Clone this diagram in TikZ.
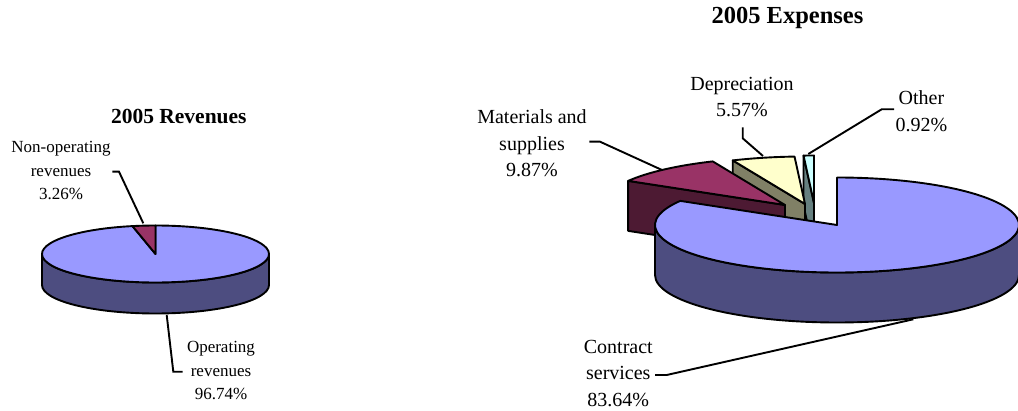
\documentclass[tikz,border=0pt]{standalone}
\usepackage{fontspec}
\setmainfont{Liberation Serif}
\definecolor{pblue}{HTML}{9999FF}
\definecolor{pblueside}{HTML}{4D4D80}
\definecolor{pmaroon}{HTML}{993366}
\definecolor{pmaroonside}{HTML}{4D1A33}
\definecolor{pyellow}{HTML}{FFFFCC}
\definecolor{pyellowside}{HTML}{808066}
\definecolor{pcyan}{HTML}{CCFFFF}
\definecolor{pcyanside}{HTML}{668080}
\begin{document}
\begin{tikzpicture}[x=1pt,y=1pt,
  face/.style={draw=black, line width=1.9pt, line join=round},
  leader/.style={draw=black, line width=1.9pt},
  lbl/.style={inner sep=0pt, align=center, font=\fontsize{20}{26.5}\selectfont},
  rlbl/.style={inner sep=0pt, align=center, font=\fontsize{17}{23.5}\selectfont},
  rttl/.style={inner sep=0pt, anchor=base, font=\bfseries\fontsize{21.5}{26}\selectfont},
  ettl/.style={inner sep=0pt, anchor=base, font=\bfseries\fontsize{24.5}{28}\selectfont}]
\useasboundingbox (0,0) rectangle (1018,410);

% ---------- Revenues pie ----------
\coordinate (rc) at (155.5,156);
\draw[face, fill=pblueside] (42,156) -- (42,125)
  arc[start angle=180, end angle=360, x radius=113.5pt, y radius=28.5pt]
  -- (269,156)
  arc[start angle=0, end angle=-180, x radius=113.5pt, y radius=28.5pt] -- cycle;
\draw[face, fill=pblue] (rc) -- ++(101.7:113.5pt and 28.5pt)
  arc[start angle=101.7, end angle=450, x radius=113.5pt, y radius=28.5pt] -- cycle;
\draw[face, fill=pmaroon] (rc) -- ++(90:113.5pt and 28.5pt)
  arc[start angle=90, end angle=101.7, x radius=113.5pt, y radius=28.5pt] -- cycle;

\node[rttl] (rtitle) at (178.8,286) {2005 Revenues};
\node[rlbl] (nonop) at (61,239.5) {Non-operating\\revenues\\3.26\%};
\node[rlbl] (op) at (221,39.5) {Operating\\revenues\\96.74\%};
\coordinate (nonopA) at (112.3,238.3);
\coordinate (nonopB) at (119,238.3);
\coordinate (nonopC) at (143.3,186.7);
\coordinate (opA) at (166.7,95);
\coordinate (opB) at (173.3,38.3);
\coordinate (opC) at (182.7,38.3);
\draw[leader] (nonopA) -- (nonopB) -- (nonopC);
\draw[leader] (opA) -- (opB) -- (opC);

% ---------- Expenses pie ----------
\coordinate (ec) at (837,185);
\coordinate (oa) at (814,207);
\coordinate (da) at (805,206);
\coordinate (ma) at (785,205);

% Other
\draw[face, fill=pcyanside] (oa) -- ++(93.3:182pt and 47.5pt) -- ++(0,-50)
  -- ++(273.3:182pt and 47.5pt) -- cycle;
\draw[face, fill=pcyan] (oa) -- ++(90:182pt and 47.5pt)
  arc[start angle=90, end angle=93.3, x radius=182pt, y radius=47.5pt] -- cycle;
% Depreciation
\draw[face, fill=pyellowside] (da) -- ++(113.4:182pt and 47.5pt) -- ++(0,-50)
  -- ++(293.4:182pt and 47.5pt) -- cycle;
\draw[face, fill=pyellow] (da) -- ++(93.3:182pt and 47.5pt)
  arc[start angle=93.3, end angle=113.4, x radius=182pt, y radius=47.5pt] -- cycle;
% Materials
\draw[face, fill=pmaroonside] (ma) -- ++(149.5:182pt and 47.5pt) -- ++(0,-50)
  -- ++(329.5:182pt and 47.5pt) -- cycle;
\draw[face, fill=pmaroon] (ma) -- ++(113.4:182pt and 47.5pt)
  arc[start angle=113.4, end angle=149.5, x radius=182pt, y radius=47.5pt] -- cycle;
% Contract services
\draw[face, fill=pblueside] (655,185) -- (655,135)
  arc[start angle=180, end angle=360, x radius=182pt, y radius=47.5pt]
  -- (1019,185)
  arc[start angle=0, end angle=-180, x radius=182pt, y radius=47.5pt] -- cycle;
\draw[face, fill=pblue] (ec) -- ++(149.5:182pt and 47.5pt)
  arc[start angle=149.5, end angle=450, x radius=182pt, y radius=47.5pt] -- cycle;

\node[ettl] (etitle) at (787.5,386) {2005 Expenses};
\node[lbl] (mat) at (532,266.5) {Materials and\\supplies\\9.87\%};
\node[lbl] (dep) at (742,313) {Depreciation\\5.57\%};
\node[lbl] (oth) at (921.5,298.7) {Other\\0.92\%};
\node[lbl] (con) at (618.3,36.5) {Contract\\services\\83.64\%};

\coordinate (matA) at (589.3,268.3);
\coordinate (matB) at (600,268.3);
\coordinate (matC) at (662,240);
\coordinate (depA) at (742.7,282.7);
\coordinate (depB) at (742.7,271.7);
\coordinate (depC) at (763,254);
\coordinate (othA) at (894,300.7);
\coordinate (othB) at (881.7,300.7);
\coordinate (othC) at (808.3,256);
\coordinate (conA) at (655,35);
\coordinate (conB) at (666.7,35);
\coordinate (conC) at (913.3,90.7);
\draw[leader] (matA) -- (matB) -- (matC);
\draw[leader] (depA) -- (depB) -- (depC);
\draw[leader] (othA) -- (othB) -- (othC);
\draw[leader] (conA) -- (conB) -- (conC);
\end{tikzpicture}
\end{document}
